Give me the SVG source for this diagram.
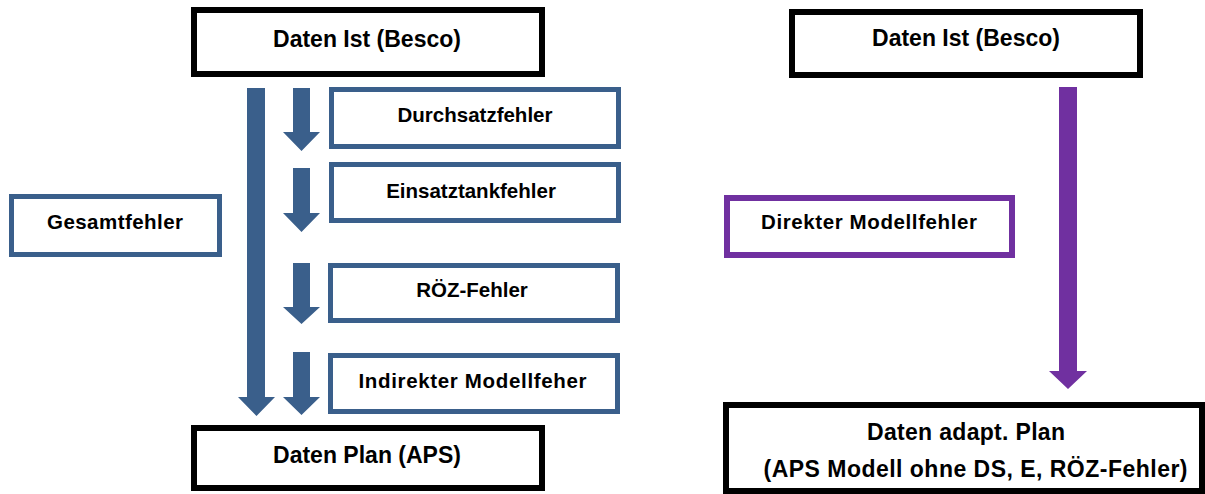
<svg xmlns="http://www.w3.org/2000/svg" width="1205" height="494" viewBox="0 0 1205 494">
<style>
.bk{fill:#fff;stroke:#000;stroke-width:6}
.bl{fill:#fff;stroke:#3A5F8B;stroke-width:5}
.pu{fill:#fff;stroke:#7030A0;stroke-width:6}
.t{font-family:"Liberation Sans",Arial,sans-serif;font-weight:bold;fill:#000;text-anchor:middle}
.big{font-size:23px}
.sm{font-size:20.5px}
.ab{fill:#3A5F8B}
.ap{fill:#7030A0}
</style>
<rect width="1205" height="494" fill="#fff"/>
<g id="connectors">
<polygon class="ab" points="247,88 265,88 265,397 275,397 256.5,416 238,397 247,397"/>
<polygon class="ab" points="293,88 310,88 310,132 320,132 301.5,151 283,132 293,132"/>
<polygon class="ab" points="293,168 310,168 310,213 320,213 301.5,232 283,213 293,213"/>
<polygon class="ab" points="293,263 310,263 310,307 320,307 301.5,324 283,307 293,307"/>
<polygon class="ab" points="293,352 310,352 310,397 320,397 301.5,415 283,397 293,397"/>
<polygon class="ap" points="1059,87 1077,87 1077,371 1087,371 1068,389 1049,371 1059,371"/>
</g>
<g id="ist-left">
<rect class="bk" x="194" y="10" width="348" height="64"/>
<text class="t big" x="367" y="47">Daten Ist (Besco)</text>
</g>
<g id="durchsatz">
<rect class="bl" x="331.5" y="89.5" width="287" height="57"/>
<text class="t sm" x="475" y="122">Durchsatzfehler</text>
</g>
<g id="einsatz">
<rect class="bl" x="331.5" y="164.5" width="287" height="56"/>
<text class="t sm" x="471" y="198">Einsatztankfehler</text>
</g>
<g id="gesamt">
<rect class="bl" x="11.5" y="196.5" width="208" height="58"/>
<text class="t sm" x="115" y="229" textLength="136">Gesamtfehler</text>
</g>
<g id="roez">
<rect class="bl" x="330.5" y="265.5" width="287" height="55"/>
<text class="t sm" x="472" y="297">RÖZ-Fehler</text>
</g>
<g id="indirekt">
<rect class="bl" x="330.5" y="355.5" width="287" height="56"/>
<text class="t sm" x="472.5" y="388" textLength="228">Indirekter Modellfeher</text>
</g>
<g id="plan">
<rect class="bk" x="194" y="428" width="348" height="60"/>
<text class="t big" x="367" y="463">Daten Plan (APS)</text>
</g>
<g id="ist-right">
<rect class="bk" x="792" y="12" width="348" height="63"/>
<text class="t big" x="966" y="46">Daten Ist (Besco)</text>
</g>
<g id="direkt">
<rect class="pu" x="727" y="198" width="285" height="57"/>
<text class="t sm" x="869" y="229" textLength="216">Direkter Modellfehler</text>
</g>
<g id="adapt">
<rect class="bk" x="726" y="405" width="476" height="86"/>
<text class="t big" x="966" y="440" textLength="198">Daten adapt. Plan</text>
<text class="t big" x="975.5" y="477" textLength="424">(APS Modell ohne DS, E, RÖZ-Fehler)</text>
</g>
</svg>
